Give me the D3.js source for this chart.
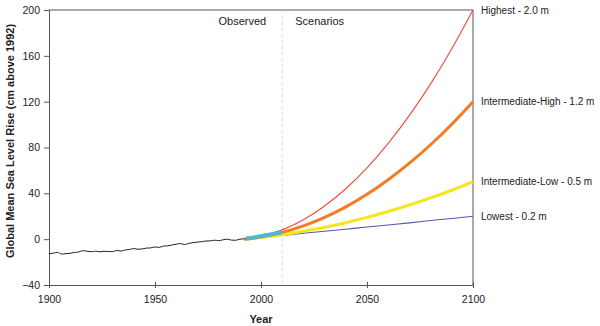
<!DOCTYPE html>
<html><head><meta charset="utf-8">
<script src="https://cdn.jsdelivr.net/npm/d3@7"></script>
<style>body{margin:0;background:#fff}svg{display:block;font-family:"Liberation Sans",Arial,sans-serif}</style>
</head><body><svg id="c" width="600" height="326"></svg>
<script>
// Observed tide-gauge record (year, cm above 1992)
const obsYears = [1900,1902,1904,1906,1908,1910,1912,1914,1916,1918,1920,1922,1924,1926,1928,1930,1932,1934,1936,1938,1940,1942,1944,1946,1948,1950,1952,1954,1956,1958,1960,1962,1964,1966,1968,1970,1972,1974,1976,1978,1980,1982,1984,1986,1988,1990,1992];
const obsValues = [-12.8,-12.2,-11.5,-13.0,-12.6,-12.3,-11.6,-11.2,-10.0,-10.6,-10.9,-10.5,-11.0,-10.6,-10.8,-10.9,-9.8,-10.4,-9.4,-9.0,-8.2,-8.8,-8.5,-7.8,-7.6,-6.8,-7.2,-6.0,-5.8,-5.1,-4.4,-3.8,-4.7,-3.6,-3.0,-2.6,-2.2,-1.6,-1.5,-0.9,-1.3,-0.6,0.0,-0.8,-1.0,0.0,0.3];
// Satellite altimetry segment
const satYears = [1993,1996,1999,2002,2005,2008,2010];
const satValues = [0.6,1.3,2.4,3.4,4.4,5.3,6.0];
// Scenario curves
const scenYears = [1992,2000,2010,2020,2030,2040,2050,2060,2070,2080,2090,2100];
const highest   = [0,2.4,8.1,17.0,29.0,44.0,62.2,83.6,108.0,135.5,166.2,200];
const intHigh   = [0,1.9,5.9,11.6,19.0,28.2,39.2,51.9,66.3,82.4,100.3,120];
const intLow    = [0,1.5,3.9,6.9,10.4,14.4,19.0,24.1,29.8,36.0,42.7,50];
const lowest    = [0,1.5,3.3,5.1,6.9,8.7,10.6,12.4,14.2,16.3,18.1,20];
const scenLabels = ["Highest - 2.0 m","Intermediate-High - 1.2 m","Intermediate-Low - 0.5 m","Lowest - 0.2 m"];
const xTicks = [1900,1950,2000,2050,2100];
const yTicks = [-40,0,40,80,120,160,200];

const svg = d3.select("#c");
const L=49,R=473,T=10,B=285;
const x = d3.scaleLinear().domain([1900,2100]).range([L,R]);
const y = d3.scaleLinear().domain([-40,200]).range([B,T]);
const axisCol="#555";

// frame
svg.append("line").attr("x1",L).attr("x2",R).attr("y1",T).attr("y2",T).attr("stroke",axisCol);
svg.append("line").attr("x1",R).attr("x2",R).attr("y1",T).attr("y2",B).attr("stroke",axisCol);

// dashed divider at 2010
svg.append("line").attr("x1",x(2010)).attr("x2",x(2010)).attr("y1",T).attr("y2",B)
  .attr("stroke","#d8d8d8").attr("stroke-dasharray","3,3");

const gx = svg.append("g").attr("transform",`translate(0,${B})`)
  .call(d3.axisBottom(x).tickValues(xTicks).tickFormat(d3.format("d")).tickSize(3).tickSizeOuter(0).tickPadding(8));
gx.selectAll(".tick line").attr("y1",-3);
const gy = svg.append("g").attr("transform",`translate(${L},0)`)
  .call(d3.axisLeft(y).tickValues(yTicks).tickSize(5).tickSizeOuter(0).tickPadding(4));
[gx,gy].forEach(g=>{
  g.select(".domain").attr("stroke",axisCol);
  g.selectAll(".tick line").attr("stroke",axisCol);
  g.selectAll("text").attr("font-size","10.5px").attr("fill","#222").attr("font-family","Liberation Sans, Arial, sans-serif");
});

const line = d3.line().x(d=>x(d[0])).y(d=>y(d[1])).curve(d3.curveMonotoneX);
const zip=(a,b)=>a.map((v,i)=>[v,b[i]]);

const scen = [
  {v:lowest,  c:"#5656a8", w:1.1},
  {v:intLow,  c:"#f6e51c", w:3},
  {v:intHigh, c:"#f47c20", w:3},
  {v:highest, c:"#f0483c", w:1.1}
];
scen.forEach(s=>{
  svg.append("path").attr("d",line(zip(scenYears,s.v))).attr("fill","none")
    .attr("stroke",s.c).attr("stroke-width",s.w);
});
svg.append("path").attr("d",line(zip(obsYears,obsValues))).attr("fill","none")
  .attr("stroke","#222").attr("stroke-width",1);
svg.append("path").attr("d",line(zip(satYears,satValues))).attr("fill","none")
  .attr("stroke","#4bb7d0").attr("stroke-width",4);

// scenario labels
const ends=[highest,intHigh,intLow,lowest];
scenLabels.forEach((t,i)=>{
  svg.append("text").attr("x",R+8).attr("y",y(ends[i][ends[i].length-1])).attr("dy","0.35em")
    .attr("font-size","10px").attr("fill","#222").text(t);
});

svg.append("text").attr("x",x(2010)-16).attr("y",25).attr("text-anchor","end").attr("font-size","11px").attr("fill","#222").text("Observed");
svg.append("text").attr("x",x(2010)+13).attr("y",25).attr("font-size","11px").attr("fill","#222").text("Scenarios");

svg.append("text").attr("x",(L+R)/2).attr("y",323).attr("text-anchor","middle")
  .attr("font-size","11px").attr("font-weight","bold").attr("fill","#222").text("Year");
svg.append("text").attr("transform",`translate(14,${141}) rotate(-90)`).attr("text-anchor","middle")
  .attr("font-size","11px").attr("font-weight","bold").attr("fill","#222").text("Global Mean Sea Level Rise (cm above 1992)");
</script></body></html>
